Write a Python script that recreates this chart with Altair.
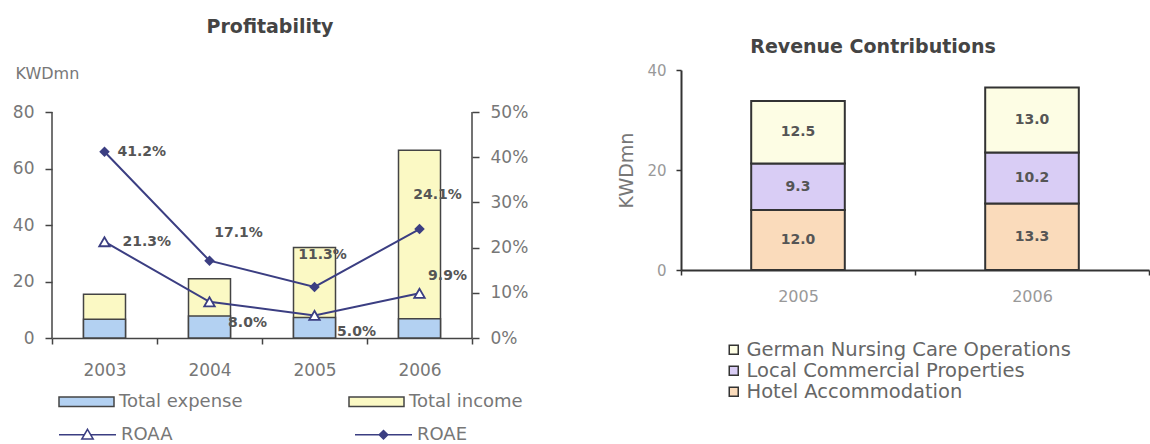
import altair as alt
import pandas as pd

# ---------------- data ----------------
years = ["2003", "2004", "2005", "2006"]
total_income = [15.5, 21.0, 32.0, 66.5]
total_expense = [6.6, 7.8, 7.3, 6.8]
roaa = [21.3, 8.0, 5.0, 9.9]
roae = [41.2, 17.1, 11.3, 24.1]

rev_years = ["2005", "2006"]
segments = ["German Nursing Care Operations", "Local Commercial Properties", "Hotel Accommodation"]
hotel = [12.0, 13.3]
local = [9.3, 10.2]
german = [12.5, 13.0]

# ---------------- styling ----------------
FONT = "DejaVu Sans"
NAVY = "#3b3e82"
AX = "#444444"
LBL = "#777777"

# left plot is drawn taller than its axes so that both panels share one top edge
LEFT_H = 268
AXIS_H = 226
STRETCH = LEFT_H / AXIS_H

bar_rows = []
for y, v in zip(years, total_income):
    bar_rows.append({"year": y, "bar_series": "Total income", "value": v})
for y, v in zip(years, total_expense):
    bar_rows.append({"year": y, "bar_series": "Total expense", "value": v})
bars_df = pd.DataFrame(bar_rows)

line_rows = []
for y, v in zip(years, roaa):
    line_rows.append({"year": y, "ratio": "ROAA", "pct": v / 100, "label": f"{v:.1f}%"})
for y, v in zip(years, roae):
    line_rows.append({"year": y, "ratio": "ROAE", "pct": v / 100, "label": f"{v:.1f}%"})
lines_df = pd.DataFrame(line_rows)

x_axis = alt.Axis(title=None, tickBand="extent", labelAngle=0, labelFont=FONT, labelFontSize=17,
                  labelColor=LBL, labelPadding=18, tickSize=6, tickColor=AX, tickWidth=1.5,
                  domainColor=AX, domainWidth=1.5, grid=False)
x_enc = alt.X("year:N", sort=years,
              scale=alt.Scale(domain=years, paddingInner=0, paddingOuter=0), axis=x_axis)

left_axis = alt.Axis(values=[0, 20, 40, 60, 80], title="KWDmn", titleAngle=0, titleAlign="left",
                     titleBaseline="middle", titleX=-37, titleY=3, titleFont=FONT, titleFontSize=16,
                     titleFontWeight="normal", titleColor=LBL, labelFont=FONT, labelFontSize=17,
                     labelColor=LBL, tickSize=7, labelPadding=11, tickColor=AX, tickWidth=1.5,
                     domain=False, grid=False)
right_axis = alt.Axis(orient="right", values=[0, 0.1, 0.2, 0.3, 0.4, 0.5], format=".0%", title=None,
                      labelFont=FONT, labelFontSize=17, labelColor=LBL, tickSize=7, labelPadding=11,
                      tickColor=AX, tickWidth=1.5, domain=False, grid=False)

RECT_PATH = "M-1,-0.17L1,-0.17L1,0.17L-1,0.17Z"
TRI_PATH = "M-1,0L-0.112,0M0.112,0L1,0M0,-0.19L0.2,0.15L-0.2,0.15Z"
DIA_PATH = "M-1,0L1,0M0,-0.15L0.15,0L0,0.15L-0.15,0Z"

y_kwd = alt.Y("value:Q", stack=None, scale=alt.Scale(domain=[0, 80 * STRETCH]), axis=left_axis)

bars = alt.Chart(bars_df).mark_bar(width=alt.RelativeBandSize(0.4), stroke=AX, strokeWidth=1.5).encode(
    x=x_enc,
    y=y_kwd,
    color=alt.Color("bar_series:N",
                    scale=alt.Scale(domain=["Total expense", "Total income"], range=["#b3d1f2", "#fbf9c4"]),
                    legend=alt.Legend(title=None, orient="none", legendX=6, legendY=303, columns=2,
                                      columnPadding=103, padding=0, symbolType=RECT_PATH, symbolSize=3025,
                                      symbolStrokeColor=AX, symbolStrokeWidth=1.5, labelFont=FONT,
                                      labelFontSize=18, labelColor=LBL, labelOffset=4, labelLimit=0)),
)

# left axis line, from 0 to 80 only
left_line_df = pd.DataFrame({"v0": [0], "v1": [80]})
left_rule = alt.Chart(left_line_df).mark_rule(color=AX, strokeWidth=1.5).encode(
    x=alt.value(0), y=alt.Y("v0:Q", scale=alt.Scale(domain=[0, 80 * STRETCH]), axis=left_axis), y2="v1:Q")

left_base = alt.layer(bars, left_rule)

y_pct = alt.Y("pct:Q", scale=alt.Scale(domain=[0, 0.5 * STRETCH]), axis=right_axis)

right_line_df = pd.DataFrame({"pct": [0.0], "p1": [0.5]})
right_rule = alt.Chart(right_line_df).mark_rule(color=AX, strokeWidth=1.5).encode(
    x=alt.value(420), y=y_pct, y2="p1:Q")

lines = alt.Chart(lines_df).mark_line(color=NAVY, strokeWidth=2).encode(
    x=x_enc, y=y_pct, detail="ratio:N")

pts_roae = alt.Chart(lines_df).transform_filter(alt.datum.ratio == "ROAE").mark_point(
    shape="diamond", filled=True, color=NAVY, size=110, opacity=1).encode(x=x_enc, y=y_pct)
pts_roaa = alt.Chart(lines_df).transform_filter(alt.datum.ratio == "ROAA").mark_point(
    shape="triangle-up", filled=True, fill="white", stroke=NAVY, strokeWidth=1.8, size=110,
    opacity=1).encode(x=x_enc, y=y_pct)

label_style = {
    ("ROAE", "2003"): dict(dx=13, dy=0, align="left"),
    ("ROAE", "2004"): dict(dx=29, dy=-28, align="center"),
    ("ROAE", "2005"): dict(dx=8, dy=-32, align="center"),
    ("ROAE", "2006"): dict(dx=18, dy=-34, align="center"),
    ("ROAA", "2003"): dict(dx=18, dy=0, align="left"),
    ("ROAA", "2004"): dict(dx=38, dy=21, align="center"),
    ("ROAA", "2005"): dict(dx=42, dy=17, align="center"),
    ("ROAA", "2006"): dict(dx=28, dy=-17, align="center"),
}
text_layers = []
for (ser, yr), st in label_style.items():
    text_layers.append(
        alt.Chart(lines_df)
        .transform_filter((alt.datum.ratio == ser) & (alt.datum.year == yr))
        .mark_text(font=FONT, fontSize=14, fontWeight="bold", color="#555555", baseline="middle", **st)
        .encode(x=x_enc, y=y_pct, text="label:N")
    )

line_legend = alt.Legend(title=None, orient="none", legendX=6, legendY=335, columns=2,
                         columnPadding=179, padding=0, symbolSize=3249,
                         symbolStrokeColor=NAVY, symbolStrokeWidth=1.5, labelFont=FONT,
                         labelFontSize=18, labelColor=LBL, labelOffset=4, labelLimit=0)
ratio_domain = ["ROAA", "ROAE"]
legend_only = alt.Chart(lines_df).transform_filter("false").mark_point(
    filled=True, strokeWidth=1.5, size=3249, opacity=1).encode(
    shape=alt.Shape("ratio:N", scale=alt.Scale(domain=ratio_domain, range=[TRI_PATH, DIA_PATH]),
                    legend=line_legend),
    fill=alt.Fill("ratio:N", scale=alt.Scale(domain=ratio_domain, range=["white", NAVY]),
                  legend=line_legend),
    stroke=alt.Stroke("ratio:N", scale=alt.Scale(domain=ratio_domain, range=[NAVY, NAVY]),
                      legend=line_legend),
)

inner = alt.layer(right_rule, lines, pts_roaa, pts_roae, *text_layers, legend_only)

left = alt.layer(left_base, inner).resolve_scale(y="independent").properties(
    width=420, height=LEFT_H,
    title=alt.TitleParams("Profitability", font=FONT, fontSize=19, fontWeight="bold", color="#444444",
                          anchor="middle", offset=28, dx=8),
)

# ---------------- right chart ----------------
rev_rows = []
for i, yr in enumerate(rev_years):
    rev_rows.append({"year": yr, "segment": "Hotel Accommodation", "value": hotel[i]})
    rev_rows.append({"year": yr, "segment": "Local Commercial Properties", "value": local[i]})
    rev_rows.append({"year": yr, "segment": "German Nursing Care Operations", "value": german[i]})
rev_df = pd.DataFrame(rev_rows)

rx_enc = alt.X("year:N", sort=rev_years, scale=alt.Scale(domain=rev_years, paddingInner=0, paddingOuter=0),
               axis=alt.Axis(title=None, tickBand="extent", labelAngle=0, labelFont=FONT, labelFontSize=16,
                             labelColor="#999999", labelPadding=13, tickSize=5, tickColor="#333333",
                             tickWidth=1.5, domainColor="#333333", domainWidth=2, grid=False))
ry_axis = alt.Axis(values=[0, 20, 40], title="KWDmn", titleFont=FONT, titleFontSize=19,
                   titleFontWeight="normal", titleColor=LBL, titlePadding=10, labelFont=FONT,
                   labelFontSize=15, labelColor="#999999", tickSize=5, labelPadding=10,
                   tickColor="#333333", tickWidth=1.5, domainColor="#333333", domainWidth=2, grid=False)

stack_order = ["Hotel Accommodation", "Local Commercial Properties", "German Nursing Care Operations"]
base_r = (alt.Chart(rev_df)
          .transform_calculate(rank=f"indexof({stack_order!r}, datum.segment)")
          .transform_stack(stack="value", groupby=["year"], as_=["y0", "y1"],
                           sort=[alt.SortField("rank", order="ascending")])
          .transform_calculate(mid="(datum.y0 + datum.y1) / 2", label="format(datum.value, '.1f')"))

rbars = base_r.mark_bar(width=alt.RelativeBandSize(0.4), stroke="#333333", strokeWidth=2).encode(
    x=rx_enc,
    y=alt.Y("y0:Q", scale=alt.Scale(domain=[0, 40]), axis=ry_axis),
    y2="y1:Q",
    color=alt.Color("segment:N",
                    scale=alt.Scale(domain=segments, range=["#fdfde4", "#d9cdf5", "#fadbbb"]),
                    legend=alt.Legend(title=None, orient="none", legendX=43, legendY=270, padding=0,
                                      symbolType="square", symbolSize=81, symbolStrokeColor="#333333",
                                      symbolStrokeWidth=1.5, labelFont=FONT, labelFontSize=19.5,
                                      labelColor="#666666", labelOffset=3, rowPadding=0, labelLimit=0)),
)
rtext = base_r.mark_text(font=FONT, fontSize=14, fontWeight="bold", color="#555555").encode(
    x=rx_enc, y=alt.Y("mid:Q", scale=alt.Scale(domain=[0, 40]), axis=ry_axis), text="label:N")

right = alt.layer(rbars, rtext).properties(
    width=468, height=200,
    title=alt.TitleParams("Revenue Contributions", font=FONT, fontSize=19, fontWeight="bold",
                          color="#444444", anchor="middle", offset=6, dx=-42),
)

chart = alt.hconcat(left, right, spacing=89).resolve_scale(
    color="independent", fill="independent", shape="independent", stroke="independent"
).resolve_legend(color="independent", fill="independent", shape="independent",
                 stroke="independent").configure(
    padding={"left": 12, "top": 18, "right": 0, "bottom": 0},
    background="white",
).configure_view(stroke=None)

chart.save("out.html", embed_options={"renderer": "svg", "actions": False})
